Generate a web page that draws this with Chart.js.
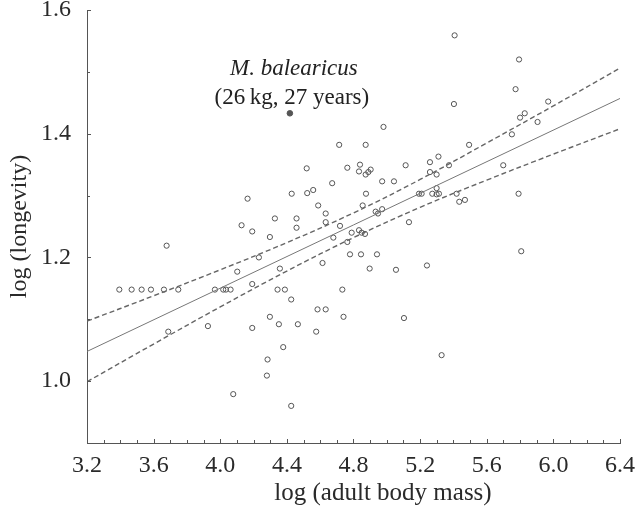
<!DOCTYPE html>
<html>
<head>
<meta charset="utf-8">
<script src="https://cdn.jsdelivr.net/npm/chart.js@4.4.0/dist/chart.umd.min.js"></script>
<style>
  html, body { margin: 0; padding: 0; background: #fff; }
  #wrap { width: 636px; height: 508px; }
</style>
</head>
<body>
<div id="wrap"><canvas id="massChart" width="636" height="508"></canvas></div>
<script>
// log (adult body mass) / log (longevity) per species
const massLog = [
  4.714, 4.519, 4.763, 4.839, 4.833, 4.873, 4.889, 4.903, 4.672, 4.164,
  4.429, 4.522, 4.558, 4.588, 4.633, 4.633, 4.719, 4.128, 4.328, 4.458,
  4.458, 4.192, 4.298, 4.679, 4.789, 4.833, 4.849, 4.869, 4.763, 4.779,
  4.845, 4.941, 3.678, 4.232, 4.102, 4.614, 4.358, 4.192, 3.394, 3.468,
  3.528, 3.584, 3.662, 3.748, 3.968, 4.018, 4.034, 4.062, 4.344, 4.388,
  4.733, 4.426, 4.584, 4.633, 4.298, 4.740, 3.926, 4.192, 4.352, 4.466,
  3.688, 4.576, 4.378, 4.284, 4.280, 4.078, 4.426, 5.133, 4.897, 5.055,
  5.241, 5.807, 5.103, 5.329, 5.407, 5.794, 5.773, 5.403, 5.969, 5.800,
  5.828, 5.905, 4.980, 5.751, 4.873, 5.494, 5.310, 5.259, 5.113, 5.373,
  5.699, 5.259, 5.299, 4.972, 5.043, 4.875, 5.193, 5.209, 5.273, 5.299,
  5.299, 5.313, 5.419, 5.435, 5.469, 5.791, 4.855, 4.933, 4.947, 4.972
];
const longevityLog = [
  1.382, 1.344, 1.345, 1.350, 1.339, 1.334, 1.338, 1.342, 1.320, 1.295,
  1.303, 1.304, 1.309, 1.284, 1.271, 1.257, 1.251, 1.252, 1.263, 1.263,
  1.248, 1.242, 1.233, 1.232, 1.240, 1.244, 1.240, 1.238, 1.225, 1.205,
  1.205, 1.205, 1.219, 1.200, 1.177, 1.191, 1.182, 1.157, 1.148, 1.148,
  1.148, 1.148, 1.148, 1.148, 1.148, 1.148, 1.148, 1.148, 1.148, 1.148,
  1.148, 1.132, 1.116, 1.116, 1.104, 1.104, 1.089, 1.086, 1.092, 1.092,
  1.080, 1.080, 1.055, 1.035, 1.009, 0.979, 0.960, 1.257, 1.182, 1.180,
  1.187, 1.210, 1.102, 1.042, 1.559, 1.520, 1.472, 1.448, 1.452, 1.426,
  1.433, 1.419, 1.411, 1.399, 1.382, 1.382, 1.363, 1.354, 1.349, 1.349,
  1.349, 1.338, 1.334, 1.323, 1.323, 1.303, 1.303, 1.303, 1.303, 1.312,
  1.302, 1.303, 1.303, 1.290, 1.293, 1.303, 1.284, 1.274, 1.271, 1.278
];

// M. balearicus
const balearicus = { x: 4.418, y: 1.433 };
const balearicusLabel = ['M. balearicus', '(26\u2009kg, 27 years)'];

// regression line and confidence band
const fitX = [3.2, 6.4];
const fitY = [1.048, 1.457];
const bandX = [3.2, 3.6, 4.0, 4.4, 4.8, 5.2, 5.6, 6.0, 6.4];
const bandUpper = [1.097, 1.138, 1.180, 1.224, 1.272, 1.326, 1.385, 1.445, 1.506];
const bandLower = [0.999, 1.060, 1.120, 1.178, 1.232, 1.281, 1.325, 1.367, 1.408];

const xTicks = [3.2, 3.6, 4.0, 4.4, 4.8, 5.2, 5.6, 6.0, 6.4];
const yTicks = [1.0, 1.2, 1.4, 1.6];
const xTitle = 'log (adult body mass)';
const yTitle = 'log (longevity)';

const serif = '"Liberation Serif", "DejaVu Serif", serif';
const ink = '#2a2a2a';
const axisGrey = '#555';

const toPts = (xs, ys) => xs.map((x, i) => ({ x: x, y: ys[i] }));

// inward tick marks (major + minor every 0.1), x title and the species note
const decorPlugin = {
    id: 'decor',
    afterDraw(chart) {
        const { ctx, scales: { x, y }, chartArea } = chart;
        ctx.save();
        ctx.strokeStyle = axisGrey;
        ctx.lineWidth = 1;
        ctx.beginPath();
        for (let i = 32; i <= 64; i++) {
            const px = Math.round(x.getPixelForValue(i / 10)) + 0.5;
            const len = (i - 32) % 4 === 0 ? 4 : 3;
            ctx.moveTo(px, chartArea.bottom);
            ctx.lineTo(px, chartArea.bottom - len);
        }
        for (let i = 10; i <= 16; i++) {
            const py = Math.round(y.getPixelForValue(i / 10)) + 0.5;
            const len = i % 2 === 0 ? 4 : 3;
            ctx.moveTo(chartArea.left, py);
            ctx.lineTo(chartArea.left + len, py);
        }
        ctx.stroke();

        ctx.fillStyle = ink;
        ctx.textAlign = 'center';
        ctx.textBaseline = 'middle';
        ctx.font = '25px ' + serif;
        ctx.fillText(xTitle, 383, 493);

        const cx = x.getPixelForValue(balearicus.x);
        const cy = y.getPixelForValue(balearicus.y);
        ctx.fillStyle = '#222';
        ctx.textBaseline = 'alphabetic';
        ctx.font = 'italic 23px ' + serif;
        ctx.fillText(balearicusLabel[0], cx + 4, cy - 38);
        ctx.font = '23px ' + serif;
        ctx.fillText(balearicusLabel[1], cx + 2, cy - 9);
        ctx.restore();
    }
};

new Chart(document.getElementById('massChart'), {
    type: 'scatter',
    data: {
        datasets: [
            {
                label: 'upper',
                type: 'line',
                data: toPts(bandX, bandUpper),
                borderColor: '#666',
                borderWidth: 1.4,
                borderDash: [5, 3],
                pointRadius: 0,
                tension: 0.4,
                fill: false
            },
            {
                label: 'lower',
                type: 'line',
                data: toPts(bandX, bandLower),
                borderColor: '#666',
                borderWidth: 1.4,
                borderDash: [5, 3],
                pointRadius: 0,
                tension: 0.4,
                fill: false
            },
            {
                label: 'fit',
                type: 'line',
                data: toPts(fitX, fitY),
                borderColor: '#777',
                borderWidth: 1,
                pointRadius: 0,
                fill: false
            },
            {
                label: 'species',
                data: toPts(massLog, longevityLog),
                pointRadius: 2.6,
                pointBorderWidth: 1,
                borderColor: axisGrey,
                backgroundColor: 'rgba(0,0,0,0)'
            },
            {
                label: 'M. balearicus',
                data: [balearicus],
                pointRadius: 2.8,
                pointBorderWidth: 1,
                borderColor: '#555',
                backgroundColor: '#555'
            }
        ]
    },
    options: {
        responsive: false,
        animation: false,
        layout: { padding: { left: 0, right: 16, top: 10, bottom: 0 } },
        plugins: { legend: { display: false }, tooltip: { enabled: false } },
        scales: {
            x: {
                type: 'linear',
                min: 3.2,
                max: 6.4,
                afterBuildTicks: (s) => { s.ticks = xTicks.map(v => ({ value: v })); },
                afterFit: (s) => { s.height = 65; s.paddingLeft = 0; s.paddingRight = 0; },
                grid: { display: false, drawTicks: false },
                border: { display: true, color: axisGrey, width: 1 },
                ticks: {
                    color: ink,
                    padding: 8,
                    maxRotation: 0,
                    autoSkip: false,
                    font: { family: serif, size: 24 },
                    callback: (v) => Number(v).toFixed(1)
                }
            },
            y: {
                type: 'linear',
                min: 0.9,
                max: 1.6,
                afterBuildTicks: (s) => { s.ticks = yTicks.map(v => ({ value: v })); },
                afterFit: (s) => { s.width = 87; s.paddingTop = 0; s.paddingBottom = 0; },
                grid: { display: false, drawTicks: false },
                border: { display: true, color: axisGrey, width: 1 },
                ticks: {
                    color: ink,
                    padding: 16,
                    autoSkip: false,
                    font: { family: serif, size: 24 },
                    callback: (v) => Number(v).toFixed(1)
                },
                title: {
                    display: true,
                    text: yTitle,
                    color: ink,
                    padding: { top: 5, bottom: 0 },
                    font: { family: serif, size: 24 }
                }
            }
        }
    },
    plugins: [decorPlugin]
});
</script>
</body>
</html>
